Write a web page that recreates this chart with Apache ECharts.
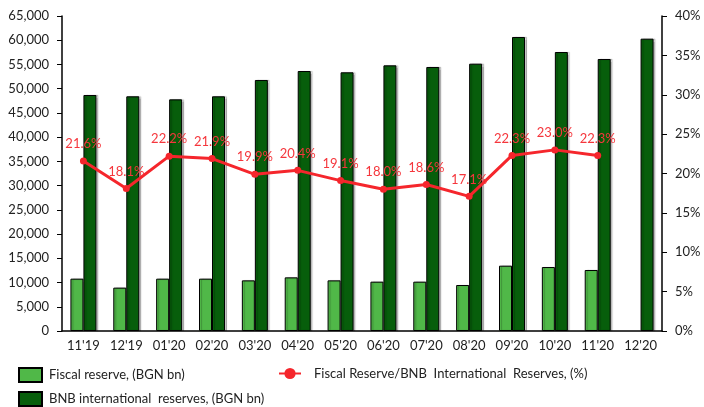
<!DOCTYPE html>
<html>
<head>
<meta charset="utf-8">
<script src="https://cdn.jsdelivr.net/npm/echarts@6/dist/echarts.min.js"></script>
<style>
html,body{margin:0;padding:0;background:#fff;}
#chart{width:704px;height:407px;}
</style>
</head>
<body>
<div id="chart"></div>
<script>
const categories = ["11'19","12'19","01'20","02'20","03'20","04'20","05'20","06'20","07'20","08'20","09'20","10'20","11'20","12'20"];
const fiscalReserve = [10800, 8950, 10800, 10800, 10450, 11070, 10450, 10180, 10180, 9490, 13480, 13200, 12590, null];
const bnbReserves = [48700, 48430, 47800, 48430, 51800, 53650, 53380, 54820, 54480, 55160, 60670, 57570, 56130, 60320];
const ratioPct = [21.6, 18.1, 22.2, 21.9, 19.9, 20.4, 19.1, 18.0, 18.6, 17.1, 22.3, 23.0, 22.3, null];

const FONT = 'Lato';
const chart = echarts.init(document.getElementById('chart'), null, {renderer: 'canvas'});
const legendText = {fontFamily: FONT, fontSize: 13, color: '#222', padding: [0, 0, 0, 2]};
chart.setOption({
  animation: false,
  textStyle: {fontFamily: FONT},
  grid: {left: 62, right: 42, top: 16, bottom: 76, containLabel: false},
  legend: [
    {data: [{name: 'Fiscal reserve, (BGN bn)', icon: 'rect'}], left: 18, top: 367, padding: 0, itemWidth: 23, itemHeight: 14, textStyle: legendText, selectedMode: false},
    {data: [{name: 'BNB international  reserves, (BGN bn)', icon: 'rect'}], left: 18, top: 391, padding: 0, itemWidth: 23, itemHeight: 14, textStyle: legendText, selectedMode: false},
    {data: ['Fiscal Reserve/BNB  International  Reserves, (%)'], left: 278, top: 367, padding: 0, itemWidth: 22, itemHeight: 14,
      textStyle: Object.assign({}, legendText, {padding: [0, 0, 0, 8]}), selectedMode: false}
  ],
  xAxis: {
    type: 'category',
    data: categories,
    axisLine: {lineStyle: {color: '#000', width: 1.5}},
    axisTick: {show: false},
    axisLabel: {fontFamily: FONT, fontSize: 13, color: '#222', margin: 8}
  },
  yAxis: [
    {
      type: 'value', min: 0, max: 65000, interval: 5000,
      splitLine: {show: false},
      axisLine: {show: true, lineStyle: {color: '#000', width: 1.5}},
      axisTick: {show: true, length: 5, lineStyle: {color: '#000'}},
      axisLabel: {fontFamily: FONT, fontSize: 13, color: '#222', margin: 13,
        formatter: v => v.toLocaleString('en-US')}
    },
    {
      type: 'value', min: 0, max: 40, interval: 5,
      splitLine: {show: false},
      axisLine: {show: true, lineStyle: {color: '#000', width: 1.5}},
      axisTick: {show: true, length: 5, lineStyle: {color: '#000'}},
      axisLabel: {fontFamily: FONT, fontSize: 13, color: '#222', margin: 13, formatter: '{value}%'}
    }
  ],
  series: [
    {
      name: 'Fiscal reserve, (BGN bn)', type: 'bar', data: fiscalReserve,
      barWidth: 13, barGap: '0%',
      itemStyle: {color: '#50B848', borderColor: '#000', borderWidth: 1,
        shadowColor: 'rgba(0,0,0,0.22)', shadowOffsetX: 2, shadowOffsetY: 0, shadowBlur: 1}
    },
    {
      name: 'BNB international  reserves, (BGN bn)', type: 'bar', data: bnbReserves,
      barWidth: 13, barGap: '0%',
      itemStyle: {color: '#075E0B', borderColor: '#000', borderWidth: 1,
        shadowColor: 'rgba(0,0,0,0.22)', shadowOffsetX: 2, shadowOffsetY: 0, shadowBlur: 1}
    },
    {
      name: 'Fiscal Reserve/BNB  International  Reserves, (%)', type: 'line', yAxisIndex: 1,
      data: ratioPct, symbol: 'circle', symbolSize: 7,
      lineStyle: {color: '#F5262C', width: 3},
      itemStyle: {color: '#F5262C'},
      label: {show: true, position: 'top', distance: 7, fontFamily: FONT, fontSize: 13, color: '#F5363C',
        formatter: p => p.value.toFixed(1) + '%'}
    }
  ]
});
</script>
</body>
</html>
